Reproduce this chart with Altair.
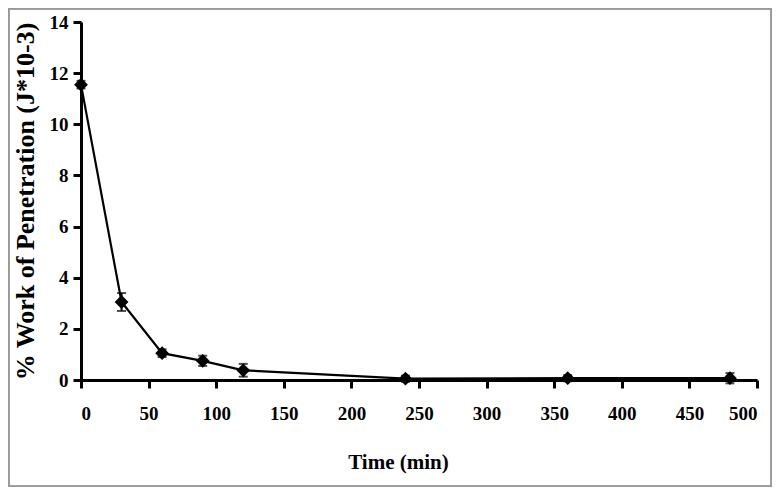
import altair as alt
import pandas as pd

time_min = [0, 30, 60, 90, 120, 240, 360, 480]
work = [11.55, 3.05, 1.05, 0.75, 0.38, 0.05, 0.07, 0.07]
err = [0.15, 0.35, 0.15, 0.2, 0.25, 0.12, 0.12, 0.2]

df = pd.DataFrame({"t": time_min, "w": work, "e": err})
df["lo"] = df["w"] - df["e"]
df["hi"] = df["w"] + df["e"]

W, H = 676, 358
PL, PT, PR, PB = 73, 14, 15, 107
FONT = "Liberation Serif"

x = alt.X("t:Q", scale=alt.Scale(domain=[0, 500], nice=False),
          axis=alt.Axis(title="Time (min)", values=list(range(0, 501, 50)),
                        titleX=317, titlePadding=28, labelPadding=16,
                        titleFontSize=21))
y = alt.Y("w:Q", scale=alt.Scale(domain=[0, 14], nice=False),
          axis=alt.Axis(title="% Work of Penetration (J*10-3)",
                        values=list(range(0, 15, 2)), titlePadding=11,
                        labelPadding=5, titleFontSize=26))

base = alt.Chart(df)

frame = base.mark_rect(fill=None, stroke="#999999", strokeWidth=1.5).encode(
    x=alt.value(-PL + 0.5), x2=alt.value(W + PR - 0.5),
    y=alt.value(-PT + 0.5), y2=alt.value(H + PB - 0.5))

line = base.mark_line(color="black", strokeWidth=2.2).encode(x=x, y=y)
rules = base.mark_rule(color="black", strokeWidth=2).encode(
    x="t:Q", y="lo:Q", y2="hi:Q")
caps_lo = base.mark_tick(color="black", orient="horizontal", size=9, thickness=2).encode(
    x="t:Q", y="lo:Q")
caps_hi = base.mark_tick(color="black", orient="horizontal", size=9, thickness=2).encode(
    x="t:Q", y="hi:Q")
points = base.mark_point(shape="diamond", filled=True, color="black", size=190, opacity=1).encode(
    x="t:Q", y="w:Q")

chart = alt.layer(line, rules, caps_lo, caps_hi, points, frame).properties(
    width=W, height=H,
    background="white",
    autosize=alt.AutoSizeParams(type="none"),
    padding={"left": PL, "top": PT, "right": PR, "bottom": PB},
).configure_view(stroke=None).configure_axis(
    grid=False, domainColor="black", domainWidth=3, tickColor="black",
    tickWidth=3, tickSize=8, labelFont=FONT, labelFontSize=19,
    labelFontWeight="bold", labelColor="black",
    titleFont=FONT, titleFontWeight="bold", titleColor="black",
)

chart.save("out.html", embed_options={"renderer": "svg", "actions": False})
